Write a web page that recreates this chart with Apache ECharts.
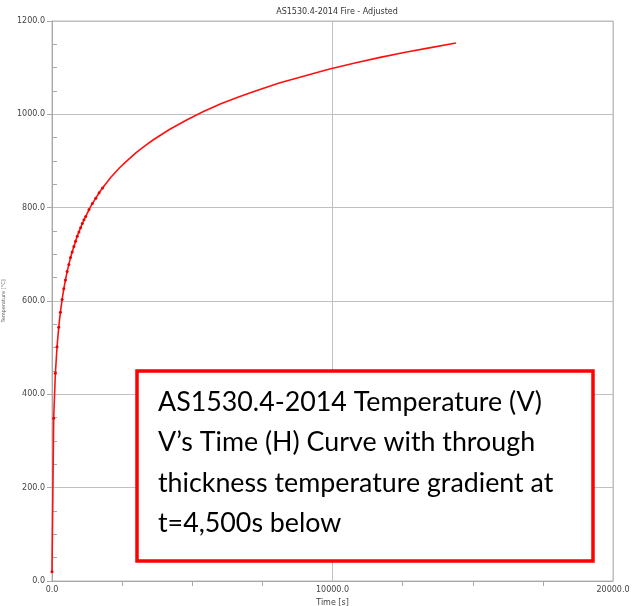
<!DOCTYPE html>
<html>
<head>
<meta charset="utf-8">
<script src="https://cdn.jsdelivr.net/npm/echarts@6/dist/echarts.min.js"></script>
<style>
html,body{margin:0;padding:0;background:#fff;}
#chart{width:636px;height:606px;}
</style>
</head>
<body>
<div id="chart"></div>
<script>
// Time values [s]
const times = [0,60,120,180,240,300,360,420,480,540,600,660,720,780,840,900,960,1020,1080,1140,1200,
  1320,1440,1560,1680,1800,2100,2400,2700,3000,3300,3600,4200,4800,5400,6000,6600,7200,
  8100,9000,9900,10800,11700,12600,13500,14400];
// Temperature values [°C]
const temps = [20,349,445,502,544,576,603,626,645,663,678,693,705,717,728,739,748,757,766,774,781,
  796,809,820,832,842,865,885,902,918,932,945,968,988,1006,1022,1036,1049,
  1067,1082,1097,1110,1122,1133,1143,1153];
const xTicks = [0, 10000, 20000];
const yTicks = [0, 200, 400, 600, 800, 1000, 1200];
const titleText = 'AS1530.4-2014 Fire - Adjusted';
const xName = 'Time [s]';
const yName = 'Temperature [°C]';
const noteLines = [
  'AS1530.4-2014 Temperature (V)',
  'V\u2019s Time (H) Curve with through',
  'thickness temperature gradient at',
  't=4,500s below'
];

const seriesData = times.map((t, i) => [t, temps[i]]);

const chart = echarts.init(document.getElementById('chart'), null, {renderer: 'canvas'});
const axisFont = {fontFamily: 'DejaVu Sans', fontSize: 8, color: '#444'};
const noteTexts = noteLines.map((line, i) => ({
  type: 'text',
  z: 102,
  x: 158, y: 402 + i * 40.5,
  style: {
    text: line,
    font: '26.8px Lato',
    fill: '#000',
    textVerticalAlign: 'middle'
  }
}));
chart.setOption({
  animation: false,
  backgroundColor: '#fff',
  title: {
    text: titleText,
    left: 332, top: 3, textAlign: 'center',
    textStyle: {fontFamily: 'DejaVu Sans', fontSize: 8, fontWeight: 'normal', color: '#333'}
  },
  grid: {left: 52, right: 23, top: 21, bottom: 25, show: true, borderColor: '#b8b8b8', borderWidth: 1,
    containLabel: false, outerBoundsMode: 'none'},
  xAxis: {
    type: 'value', min: xTicks[0], max: xTicks[xTicks.length - 1], interval: 10000,
    name: xName, nameLocation: 'middle', nameGap: 16,
    nameTextStyle: {fontFamily: 'DejaVu Sans', fontSize: 8, color: '#444'},
    axisLine: {show: true, lineStyle: {color: '#a8a8a8', width: 1}},
    axisTick: {show: false},
    minorTick: {show: true, splitNumber: 4, length: 5, lineStyle: {color: '#a8a8a8'}},
    axisLabel: Object.assign({margin: 5, formatter: v => v.toFixed(1), showMinLabel: true, showMaxLabel: true}, axisFont),
    splitLine: {show: true, lineStyle: {color: '#c0c0c0', width: 1}},
    minorSplitLine: {show: false}
  },
  yAxis: {
    type: 'value', min: yTicks[0], max: yTicks[yTicks.length - 1], interval: 200,
    name: yName, nameLocation: 'middle', nameGap: 36, nameRotate: 90,
    nameTextStyle: {fontFamily: 'DejaVu Sans', fontSize: 5, color: '#555'},
    axisLine: {show: true, lineStyle: {color: '#a8a8a8', width: 1}},
    axisTick: {show: true, inside: true, length: -5, lineStyle: {color: '#a8a8a8'}},
    minorTick: {show: true, splitNumber: 4, length: 5, lineStyle: {color: '#a8a8a8'}},
    axisLabel: Object.assign({margin: 7, formatter: v => v.toFixed(1)}, axisFont),
    splitLine: {show: true, lineStyle: {color: '#c0c0c0', width: 1}},
    minorSplitLine: {show: false}
  },
  series: [{
    type: 'line',
    data: seriesData,
    showSymbol: true,
    symbol: 'circle',
    symbolSize: v => (v[0] <= 1800 ? 3 : 0),
    itemStyle: {color: '#ee0000'},
    lineStyle: {color: '#ff1010', width: 1.6},
    z: 3
  }],
  graphic: [
    {
      type: 'rect',
      z: 101,
      shape: {x: 137, y: 371, width: 456, height: 190},
      style: {fill: '#fff', stroke: '#ff0000', lineWidth: 3.5}
    }
  ].concat(noteTexts)
});
</script>
</body>
</html>
